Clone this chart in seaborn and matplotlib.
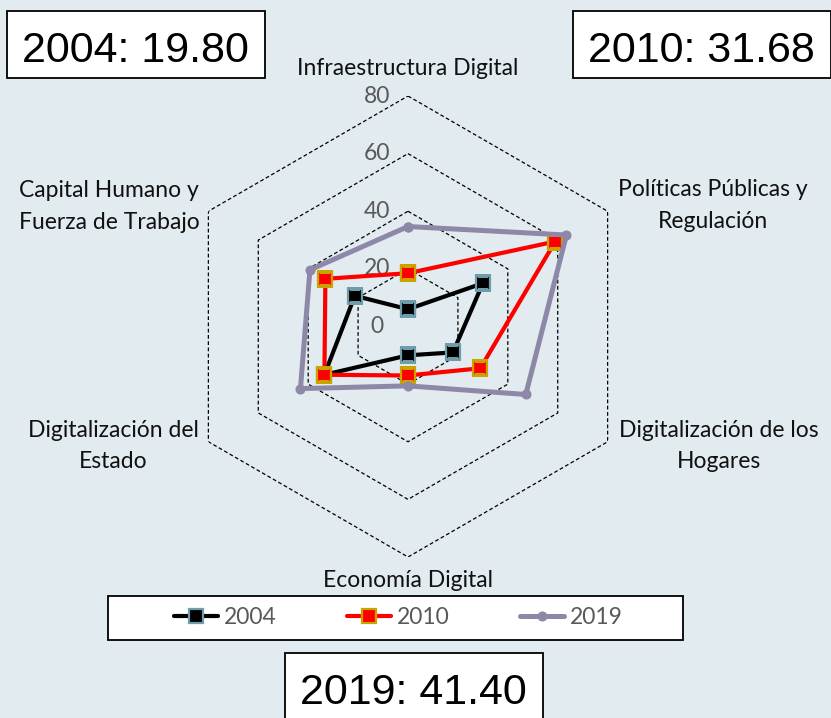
"""
Radar: índice de digitalización por dimensión, 2004 / 2010 / 2019
"""

import numpy as np
import pandas as pd
import seaborn as sns
import matplotlib.pyplot as plt
from matplotlib.patches import Rectangle

# datos
categories = [
    "Infraestructura Digital",
    "Políticas Públicas y\nRegulación",
    "Digitalización de los\nHogares",
    "Economía Digital",
    "Digitalización del\nEstado",
    "Capital Humano y\nFuerza de Trabajo",
]
v2004 = [6.0, 30.0, 18.0, 10.0, 33.5, 21.3]
v2010 = [18.5, 59.0, 29.0, 17.0, 33.5, 33.1]
v2019 = [34.7, 63.5, 47.2, 20.6, 43.1, 39.3]
years = ["2004", "2010", "2019"]
scores = [19.80, 31.68, 41.40]
ticks = [0, 20, 40, 60, 80]

BG = "#E2EBEF"
GREY = "#595959"

sns.set_theme(style="white")
plt.rcParams['font.family'] = ['Lato', 'DejaVu Sans']

W, H = 831, 718
fig = plt.figure(figsize=(W / 100, H / 100), dpi=100, facecolor=BG)


def px(x, y, w=0, h=0):
    # pixel box (desde arriba) -> fracción de figura
    return [x / W, 1 - (y + h) / H, w / W, h / H]


ax = fig.add_axes(px(177.5, 96, 461, 461), projection='polar')
ax.set_facecolor('none')
ax.set_theta_offset(np.pi / 2)
ax.set_theta_direction(-1)
ax.set_ylim(0, ticks[-1])
ax.grid(False)
ax.spines['polar'].set_visible(False)

n = len(categories)
theta = np.linspace(0, 2 * np.pi, n, endpoint=False)
theta_c = np.append(theta, 2 * np.pi)

# anillos hexagonales
for t in ticks[1:]:
    ax.plot(theta_c, [t] * (n + 1), color='black', lw=0.9,
            ls=(0, (3, 2)), zorder=1)

for t in ticks:
    ax.annotate(str(t), xy=(0, t), xytext=(-22.3, 0), textcoords='offset points',
                ha='center', va='center', color=GREY, fontsize=16.5,
                annotation_clip=False)

# etiquetas de categorías
label_offsets = [(0, 20), (75.6, 4), (80, -3), (0, -16.6), (-68.4, -3), (-71.3, 3.6)]
for ang, lab, off in zip(theta, categories, label_offsets):
    ax.annotate(lab, xy=(ang, ticks[-1]), xytext=off, textcoords='offset points',
                ha='center', va='center', color='#111111', fontsize=16.5,
                linespacing=1.62, annotation_clip=False)

# series
df = pd.DataFrame({
    'theta': np.tile(theta_c, 3),
    'valor': v2004 + v2004[:1] + v2010 + v2010[:1] + v2019 + v2019[:1],
    'year': np.repeat(years, n + 1),
})

styles = {
    "2004": dict(color='black', marker='s', markersize=9.5, markerfacecolor='black',
                 markeredgecolor='#6E9CAB', markeredgewidth=1.6, linewidth=3.0),
    "2010": dict(color='#FF0000', marker='s', markersize=9.5, markerfacecolor='#FF0000',
                 markeredgecolor='#C9A400', markeredgewidth=1.6, linewidth=3.0),
    "2019": dict(color='#8E88A8', marker='o', markersize=6.5, markerfacecolor='#8E88A8',
                 markeredgecolor='#8E88A8', linewidth=3.6),
}

for i, y in enumerate(years):
    sub = df[df['year'] == y]
    sns.lineplot(data=sub, x='theta', y='valor', sort=False, estimator=None,
                 ax=ax, label=y, zorder=3 + i, **styles[y])

ax.set_xlabel('')
ax.set_ylabel('')
ax.set_xticks([])
ax.set_yticks([])

handles, labels = ax.get_legend_handles_labels()
ax.get_legend().remove()

# leyenda con marco propio
fig.add_artist(Rectangle(px(108, 596, 575, 44)[:2], 575 / W, 44 / H,
                         transform=fig.transFigure, facecolor='white',
                         edgecolor='black', lw=1.3, zorder=5))
leg = fig.legend(handles, labels, loc='center', bbox_to_anchor=(398.5 / W, 1 - 618 / H),
                 bbox_transform=fig.transFigure, ncol=3, frameon=False,
                 fontsize=16.5, handlelength=1.9, handletextpad=0.25,
                 columnspacing=3.1, labelcolor=GREY)
leg.set_zorder(6)

# cajas con el índice total
boxes = [(6.7, 11), (573, 11), (285, 653)]
for (bx, by), y, s in zip(boxes, years, scores):
    fig.add_artist(Rectangle(px(bx, by, 258, 67)[:2], 258 / W, 67 / H,
                             transform=fig.transFigure, facecolor='white',
                             edgecolor='black', lw=1.3, zorder=5))
    fig.text((bx + 128.5) / W, 1 - (by + 51) / H, f"{y}: {s:.2f}",
             ha='center', va='baseline', fontsize=31, color='black',
             family=['Liberation Sans', 'DejaVu Sans'], zorder=6)

plt.savefig('out.png', dpi=100, facecolor=BG)
